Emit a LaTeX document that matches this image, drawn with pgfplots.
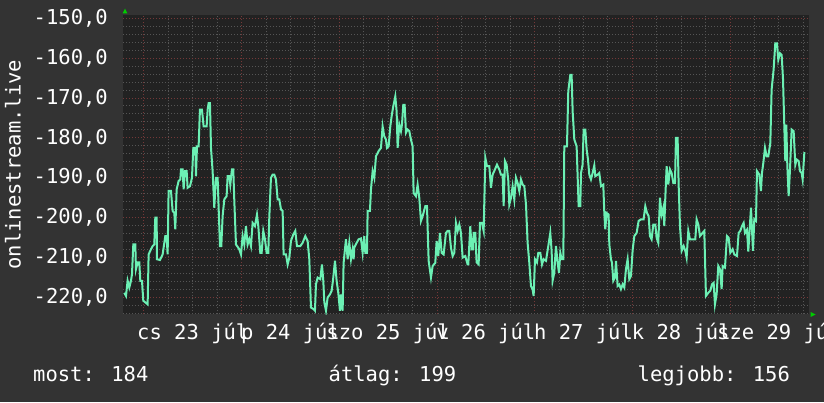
\documentclass[border=0pt]{standalone}
\usepackage{fontspec}
\setmainfont{DejaVu Sans Mono}
\usepackage{pgfplots}
\pgfplotsset{compat=1.18}
\definecolor{outerbg}{HTML}{333333}
\definecolor{plotbg}{HTML}{222222}
\definecolor{minorgrid}{HTML}{555555}
\definecolor{majorgrid}{HTML}{743838}
\definecolor{linecol}{HTML}{6CF0B4}
\definecolor{arrowgreen}{HTML}{00CC00}
\newcommand{\lblfont}{\fontsize{20.5bp}{24bp}\selectfont}
\begin{document}
\begin{tikzpicture}[x=1bp,y=1bp]
\fill[outerbg] (0,0) rectangle (824,402);
\begin{axis}[
  at={(123.3bp,87.7bp)}, anchor=south west,
  scale only axis, width=686bp, height=299.3bp,
  xmin=-5.06, xmax=163.46, ymin=-224.2, ymax=-149.2,
  axis background/.style={fill=plotbg},
  axis line style={draw=none},
  tick style={draw=none},
  xtick={0,24,48,72,96,120,144}, xticklabels={},
  minor xtick={6,12,18,30,36,42,54,60,66,78,84,90,102,108,114,126,132,138,150,156,162},
  extra x ticks={12,36,60,84,108,132,156},
  extra x tick labels={cs 23 júl,p 24 júl,szo 25 júl,v 26 júl,h 27 júl,k 28 júl,sze 29 júl},
  extra x tick style={grid=none},
  xticklabel style={anchor=base, inner sep=0pt, yshift=-25bp},
  ytick={-220,-210,-200,-190,-180,-170,-160,-150},
  yticklabels={{-220,0},{-210,0},{-200,0},{-190,0},{-180,0},{-170,0},{-160,0},{-150,0}},
  minor ytick={-224,-222,-218,-216,-214,-212,-208,-206,-204,-202,-198,-196,-194,-192,-188,-186,-184,-182,-178,-176,-174,-172,-168,-166,-164,-162,-158,-156,-154,-152},
  grid=both,
  major grid style={majorgrid, line width=1bp, dash pattern=on 1bp off 2bp},
  minor grid style={minorgrid, line width=1bp, dash pattern=on 1bp off 2bp},
  yticklabel style={anchor=east, inner sep=0pt, xshift=-15.3bp},
  ticklabel style={font=\lblfont, text=white},
  ylabel={onlinestream.live},
  ylabel style={at={(axis description cs:-0.1608,0.5)}, anchor=center, font=\lblfont, text=white},
]
\addplot[linecol, line width=2bp] coordinates {
(-4.81,-218.8)(-4.40,-219.6)(-4.00,-215.8)(-3.59,-217.5)(-3.18,-215.8)(-2.93,-214.2)(-2.60,-206.7)(-2.11,-206.7)(-1.95,-212.9)(-1.54,-211.2)(-1.13,-211.2)(-0.88,-215.8)(-0.47,-215.8)(-0.15,-220.8)(0.92,-221.7)(1.16,-209.2)(1.74,-207.9)(2.15,-207.1)(2.55,-206.7)(2.80,-200.0)(3.13,-200.0)(3.21,-210.4)(3.95,-210.6)(4.60,-209.2)(5.26,-204.6)(5.58,-204.6)(5.83,-209.2)(6.07,-193.3)(6.65,-193.3)(7.06,-198.3)(7.47,-198.8)(7.71,-202.9)(8.04,-192.9)(8.53,-190.8)(8.94,-190.4)(9.11,-187.9)(9.51,-187.9)(9.76,-192.9)(10.09,-188.3)(10.50,-188.3)(10.74,-192.5)(11.32,-192.1)(11.81,-190.0)(12.14,-182.5)(12.63,-182.5)(12.79,-189.6)(13.04,-182.1)(13.44,-182.1)(13.77,-172.9)(14.26,-172.9)(14.67,-177.1)(15.41,-177.1)(15.66,-172.9)(15.90,-171.3)(16.23,-171.3)(16.48,-182.5)(16.88,-188.3)(17.29,-197.5)(17.70,-190.0)(18.11,-190.0)(18.36,-197.5)(18.69,-207.1)(19.01,-207.1)(19.34,-199.6)(19.75,-195.4)(20.32,-194.6)(20.57,-189.6)(20.98,-189.6)(21.22,-191.7)(21.63,-187.9)(21.96,-187.9)(22.21,-195.8)(22.62,-206.7)(23.43,-207.9)(23.85,-209.2)(24.25,-204.6)(24.66,-206.7)(25.07,-202.1)(25.48,-206.7)(25.89,-205.4)(26.30,-207.1)(26.71,-201.3)(27.28,-202.1)(27.78,-199.2)(28.10,-202.1)(28.59,-208.8)(28.92,-208.8)(29.33,-203.3)(29.74,-205.4)(30.15,-208.8)(30.56,-208.8)(30.80,-200.0)(31.21,-190.0)(31.62,-189.2)(32.03,-189.2)(32.44,-190.4)(32.85,-195.4)(33.26,-195.4)(33.67,-197.9)(34.08,-198.3)(34.32,-209.2)(34.90,-209.2)(35.31,-211.7)(35.72,-210.0)(36.13,-205.8)(36.70,-204.2)(37.19,-203.3)(37.60,-207.1)(38.42,-207.1)(38.99,-206.3)(39.65,-204.6)(40.22,-205.8)(40.63,-210.4)(41.04,-222.5)(41.69,-222.9)(42.02,-223.3)(42.27,-216.7)(42.68,-215.0)(43.33,-215.4)(43.74,-211.7)(44.07,-215.8)(44.32,-221.2)(44.73,-223.3)(45.13,-220.0)(45.71,-219.2)(46.12,-218.3)(46.44,-215.8)(46.94,-210.8)(47.34,-215.8)(47.75,-218.8)(48.16,-223.3)(48.41,-219.2)(48.82,-223.3)(49.06,-211.3)(49.64,-205.4)(50.05,-210.4)(50.46,-206.3)(50.87,-210.4)(51.27,-207.9)(51.52,-210.4)(51.68,-207.5)(52.26,-206.3)(52.75,-205.4)(53.32,-205.2)(53.73,-208.8)(54.14,-204.6)(54.39,-208.8)(54.80,-208.8)(54.96,-198.3)(55.53,-198.3)(55.78,-192.9)(56.19,-188.3)(56.60,-190.0)(57.01,-184.6)(57.66,-183.3)(58.24,-182.5)(58.64,-177.1)(59.05,-179.6)(59.46,-180.4)(59.71,-182.5)(60.12,-182.1)(60.53,-177.1)(60.85,-174.6)(61.26,-172.1)(61.76,-169.6)(62.08,-173.3)(62.33,-182.5)(62.74,-176.7)(63.15,-178.3)(63.39,-176.7)(63.72,-171.7)(64.05,-171.7)(64.38,-178.7)(64.78,-177.9)(65.20,-178.3)(65.60,-180.4)(66.01,-182.1)(66.26,-193.8)(66.83,-194.6)(67.24,-191.7)(67.65,-195.0)(68.06,-200.8)(68.47,-199.6)(69.13,-197.1)(69.54,-197.1)(69.95,-210.8)(70.52,-215.0)(70.93,-212.1)(71.58,-211.3)(71.91,-205.8)(72.32,-209.6)(72.73,-203.8)(73.14,-208.8)(73.63,-209.2)(74.20,-203.8)(74.61,-203.3)(75.02,-203.3)(75.43,-207.5)(75.84,-209.6)(76.25,-208.8)(76.66,-201.3)(77.07,-203.3)(77.48,-201.7)(77.89,-203.8)(78.30,-210.0)(78.95,-209.6)(79.52,-211.7)(79.69,-211.7)(80.18,-202.1)(80.51,-207.9)(80.84,-207.9)(81.00,-203.8)(81.41,-203.8)(81.73,-211.2)(82.23,-211.7)(82.56,-201.3)(83.05,-201.3)(83.46,-203.3)(83.87,-185.0)(84.28,-187.1)(84.85,-187.1)(85.26,-192.5)(85.66,-189.2)(86.24,-187.9)(86.73,-186.7)(87.31,-187.9)(87.71,-189.2)(88.12,-189.2)(88.37,-197.1)(88.70,-185.8)(89.10,-186.7)(89.52,-190.8)(89.76,-196.7)(90.17,-195.0)(90.58,-192.1)(90.99,-195.4)(91.40,-190.0)(91.81,-191.3)(92.22,-193.3)(92.63,-190.4)(93.04,-191.7)(93.45,-192.1)(93.86,-196.7)(94.26,-206.3)(94.67,-211.2)(95.08,-217.1)(95.49,-218.0)(95.74,-219.6)(96.07,-210.4)(96.56,-211.2)(96.88,-208.8)(97.38,-208.8)(97.79,-211.7)(98.19,-210.4)(98.77,-210.8)(99.34,-207.1)(99.83,-203.8)(100.16,-208.3)(100.40,-215.8)(100.81,-213.8)(101.22,-207.1)(101.63,-211.2)(101.96,-213.8)(102.29,-208.8)(102.62,-210.4)(103.03,-210.4)(103.27,-182.1)(103.93,-182.1)(104.25,-168.3)(104.75,-164.2)(105.07,-164.2)(105.32,-173.3)(105.73,-180.4)(106.30,-182.1)(106.55,-189.6)(106.79,-197.1)(107.20,-197.1)(107.37,-188.8)(107.77,-186.7)(108.02,-177.9)(108.43,-177.9)(108.76,-182.9)(109.09,-185.4)(109.41,-189.2)(109.82,-190.4)(110.23,-188.8)(110.64,-186.9)(110.89,-189.6)(111.46,-189.2)(111.87,-188.8)(112.28,-192.1)(112.85,-191.7)(113.10,-198.8)(113.34,-202.9)(113.67,-198.8)(114.16,-199.2)(114.33,-206.7)(114.73,-210.4)(114.98,-211.2)(115.31,-215.8)(115.72,-215.0)(115.97,-210.8)(116.37,-217.1)(116.78,-216.7)(117.19,-217.9)(117.60,-216.7)(118.01,-217.5)(118.42,-212.9)(118.83,-210.4)(119.24,-215.4)(119.65,-214.6)(120.06,-208.1)(120.47,-204.6)(121.04,-203.8)(121.53,-200.8)(122.10,-200.4)(122.76,-200.4)(123.17,-197.1)(123.58,-198.8)(123.99,-199.6)(124.32,-204.6)(124.72,-205.4)(125.13,-201.7)(125.63,-201.7)(125.95,-205.0)(126.36,-206.3)(126.77,-195.0)(127.18,-199.2)(127.59,-197.5)(127.84,-202.1)(128.08,-195.0)(128.41,-187.1)(128.82,-191.7)(129.23,-187.9)(129.64,-188.8)(130.05,-191.3)(130.46,-191.3)(130.70,-180.0)(131.11,-180.0)(131.36,-191.7)(131.69,-202.1)(132.10,-208.3)(132.59,-207.1)(133.00,-208.3)(133.32,-210.0)(133.73,-203.3)(134.14,-205.4)(135.45,-205.4)(135.78,-200.4)(136.19,-201.7)(136.60,-204.6)(137.66,-203.3)(138.07,-219.6)(138.65,-218.8)(139.14,-218.3)(139.55,-216.7)(139.96,-216.3)(140.28,-221.7)(140.69,-219.2)(141.10,-212.1)(141.51,-212.9)(141.92,-217.9)(142.17,-212.1)(142.74,-212.5)(143.23,-204.6)(143.64,-205.0)(144.05,-208.8)(144.62,-207.9)(145.03,-209.2)(145.69,-209.6)(146.10,-203.8)(146.51,-203.3)(146.92,-202.1)(147.33,-201.3)(147.65,-203.8)(148.15,-203.0)(148.47,-208.5)(148.80,-203.0)(149.13,-197.5)(149.62,-208.3)(149.95,-200.4)(150.36,-200.8)(150.60,-188.3)(151.17,-189.2)(151.58,-193.3)(151.83,-188.8)(152.16,-186.3)(152.57,-182.5)(152.97,-184.6)(153.38,-184.6)(153.88,-181.3)(154.20,-167.9)(154.69,-162.9)(155.10,-156.3)(155.51,-156.3)(155.84,-160.4)(156.25,-158.8)(156.66,-159.2)(156.99,-165.0)(157.31,-176.7)(157.56,-185.8)(157.81,-176.7)(158.05,-186.7)(158.38,-194.6)(158.71,-188.0)(159.12,-177.9)(159.61,-178.3)(160.02,-186.7)(160.35,-185.4)(160.84,-185.8)(161.17,-188.3)(161.58,-188.8)(161.82,-190.4)(162.23,-183.8)(162.48,-183.8)
};
\end{axis}
\fill[arrowgreen] (122.7,388.7) -- (127.3,388.7) -- (125,393.5) -- cycle;
\fill[arrowgreen] (810.5,85) -- (810.5,90) -- (815.5,87.5) -- cycle;
\node[anchor=base west, inner sep=0pt, font=\lblfont, text=white] at (33,21) {most: 184};
\node[anchor=base west, inner sep=0pt, font=\lblfont, text=white] at (328.5,21) {átlag: 199};
\node[anchor=base west, inner sep=0pt, font=\lblfont, text=white] at (637.5,21) {legjobb: 156};
\pgfresetboundingbox
\path[use as bounding box] (0,0) rectangle (824,402);
\end{tikzpicture}
\end{document}
